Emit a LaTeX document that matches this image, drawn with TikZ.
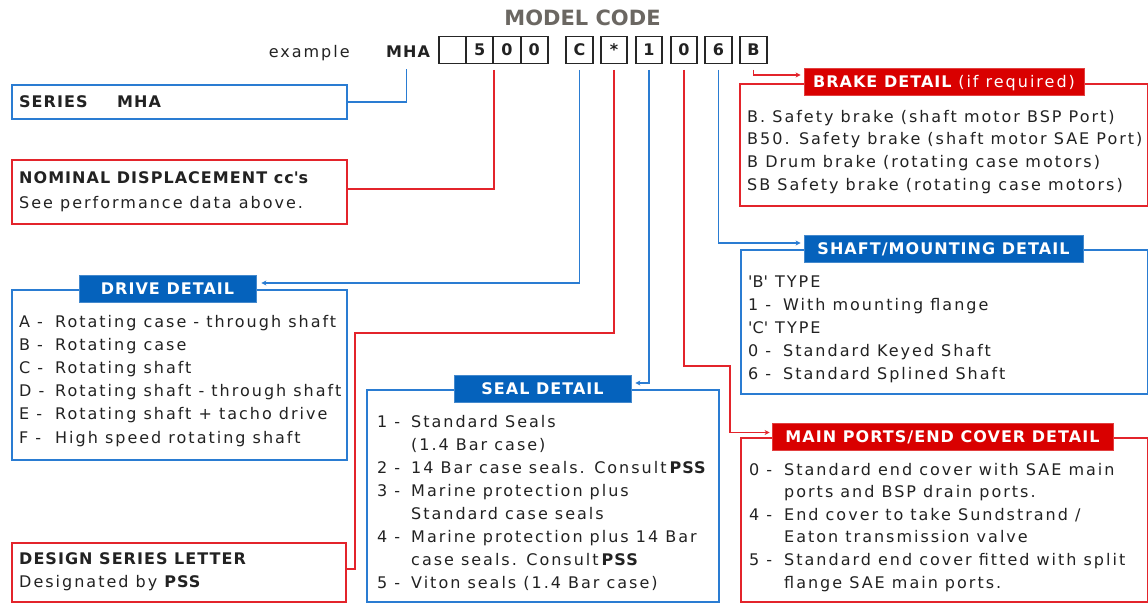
\documentclass[tikz,border=0pt]{standalone}
\usepackage{fontspec}
\setmainfont{DejaVu Sans}[LetterSpace=12.5]
\newfontfamily\bfam{DejaVu Sans}[LetterSpace=6.5]
\newfontfamily\titlefont{DejaVu Sans}
\newcommand\Bd[1]{{\bfam\bfseries #1}}
\usetikzlibrary{arrows.meta}
\definecolor{lblue}{HTML}{2A7CD2}
\definecolor{hblue}{HTML}{0562BC}
\definecolor{lred}{HTML}{E3242B}
\definecolor{hred}{HTML}{D90000}
\definecolor{tgray}{HTML}{6B6762}
\definecolor{ink}{HTML}{222222}
\begin{document}
\begin{tikzpicture}[x=1pt,y=-1pt,
  txt/.style={anchor=base west, inner sep=0pt, text=ink, font=\fontsize{16}{19}\selectfont},
  bbox/.style={draw=lblue, line width=1.8pt, anchor=north west, inner sep=0pt},
  rbox/.style={draw=lred, line width=1.8pt, anchor=north west, inner sep=0pt},
  hd/.style={text=white, font=\fontsize{16}{19}\selectfont\bfam\bfseries, inner sep=0pt, text height=11.7pt, text depth=0pt, minimum height=27pt},
  bhead/.style={hd, fill=hblue, draw=hblue!75!white, line width=0.8pt},
  rhead/.style={hd, fill=hred, draw=hred!75!white, line width=0.8pt},
  cell/.style={draw=black!85, line width=1.8pt, minimum height=27pt, minimum width=26.5pt, inner sep=0pt, font=\fontsize{16}{19}\selectfont\bfam\bfseries, text height=11.7pt, text depth=0pt, text=ink},
  bl/.style={draw=lblue, line width=1.8pt},
  rl/.style={draw=lred, line width=1.8pt},
  tip/.style={-{Stealth[length=5pt,width=5pt]}}
]
\fill[white] (0,0) rectangle (1148,603);
\useasboundingbox (0,0) rectangle (1148,603);

% ---- model code ----
\node[font=\fontsize{21}{24}\selectfont\titlefont\bfseries, text=tgray, inner sep=0pt, text height=15.3pt, text depth=0pt] (title) at (582.5,17.5) {MODEL CODE};
\node[txt] (example) at (268.6,57) {example};
\node[txt] (mha) at (386,57) {\Bd{MHA}};
\node[cell, minimum width=27.35pt] (c0) at (452.3,50) {};
\node[cell, minimum width=27.35pt] (c1) at (479.6,50) {5};
\node[cell, minimum width=27.35pt] (c2) at (507,50) {0};
\node[cell, minimum width=27.35pt] (c3) at (534.3,50) {0};
\node[cell] (cC) at (579.5,50) {C};
\node[cell] (cS) at (614,50) {*};
\node[cell] (cOne) at (649,50) {1};
\node[cell] (cZero) at (684,50) {0};
\node[cell] (cSix) at (718.5,50) {6};
\node[cell] (cB) at (753.5,50) {B};
\coordinate (mhaT) at (406.5,69);

% ---- left boxes ----
\node[bbox, minimum width=335pt, minimum height=34pt] (series) at (11,84) {};
\node[txt] (seriesA) at (19,107) {\Bd{SERIES}};
\node[txt] (seriesB) at (117,107) {\Bd{MHA}};

\node[rbox, minimum width=335pt, minimum height=64pt] (nominal) at (11,159) {};
\node[txt] (nomA) at (19,183) {\Bd{NOMINAL DISPLACEMENT cc\textquotesingle s}};
\node[txt] (nomB) at (19,208) {See performance data above.};

\node[bbox, minimum width=335pt, minimum height=170pt] (drive) at (11,289) {};
\node[bhead, minimum width=177pt] (drvh) at (167.5,288.5) {DRIVE DETAIL};
\node[txt] (dA) at (19,327) {A -};   \node[txt] (dAt) at (55,327) {Rotating case - through shaft};
\node[txt] (dB) at (19,350.2) {B -}; \node[txt] (dBt) at (55,350.2) {Rotating case};
\node[txt] (dC) at (19,373.4) {C -}; \node[txt] (dCt) at (55,373.4) {Rotating shaft};
\node[txt] (dD) at (19,396.6) {D -}; \node[txt] (dDt) at (55,396.6) {Rotating shaft - through shaft};
\node[txt] (dE) at (19,419.8) {E -}; \node[txt] (dEt) at (55,419.8) {Rotating shaft + tacho drive};
\node[txt] (dF) at (19,443) {F -};   \node[txt] (dFt) at (55,443) {High speed rotating shaft};

\node[rbox, minimum width=334pt, minimum height=59pt] (design) at (11,542) {};
\node[txt] (desA) at (19,564) {\Bd{DESIGN SERIES LETTER}};
\node[txt] (desB) at (19,587) {Designated by \Bd{PSS}};

% ---- seal ----
\node[bbox, minimum width=352pt, minimum height=212pt] (seal) at (366,389) {};
\node[bhead, minimum width=177pt] (sealh) at (542.5,388.5) {SEAL DETAIL};
\node[txt] (s1) at (377,427) {1 -}; \node[txt] (s1t) at (411,427) {Standard Seals};
\node[txt] (s1u) at (411,450) {(1.4 Bar case)};
\node[txt] (s2) at (377,473) {2 -}; \node[txt] (s2t) at (411,473) {14 Bar case seals. Consult\hspace{3pt}\Bd{PSS}};
\node[txt] (s3) at (377,496) {3 -}; \node[txt] (s3t) at (411,496) {Marine protection plus};
\node[txt] (s3u) at (411,519) {Standard case seals};
\node[txt] (s4) at (377,542) {4 -}; \node[txt] (s4t) at (411,542) {Marine protection plus 14 Bar};
\node[txt] (s4u) at (411,565) {case seals. Consult\hspace{3pt}\Bd{PSS}};
\node[txt] (s5) at (377,588) {5 -}; \node[txt] (s5t) at (411,588) {Viton seals (1.4 Bar case)};

% ---- brake ----
\node[rbox, minimum width=408pt, minimum height=122pt] (brake) at (739,83) {};
\node[rhead, minimum width=280pt] (brakeh) at (944,82) {BRAKE DETAIL {\mdseries\rmfamily (if required)}};
\node[txt] (b1) at (747,122) {B. Safety brake (shaft motor BSP Port)};
\node[txt] (b2) at (747,144.7) {B50. Safety brake (shaft motor SAE Port)};
\node[txt] (b3) at (747,167.4) {B Drum brake (rotating case motors)};
\node[txt] (b4) at (747,190) {SB Safety brake (rotating case motors)};

% ---- shaft ----
\node[bbox, minimum width=407pt, minimum height=144pt] (shaft) at (740,249) {};
\node[bhead, minimum width=279pt] (shafth) at (943.5,248.5) {SHAFT/MOUNTING DETAIL};
\node[txt] (h1) at (748,287) {\textquotesingle B\textquotesingle\ TYPE};
\node[txt] (h2) at (748,310) {1 -}; \node[txt] (h2t) at (783,310) {With mounting flange};
\node[txt] (h3) at (748,333) {\textquotesingle C\textquotesingle\ TYPE};
\node[txt] (h4) at (748,356) {0 -}; \node[txt] (h4t) at (783,356) {Standard Keyed Shaft};
\node[txt] (h5) at (748,379) {6 -}; \node[txt] (h5t) at (783,379) {Standard Splined Shaft};

% ---- main ports ----
\node[rbox, minimum width=407pt, minimum height=164pt] (mainp) at (740,437) {};
\node[rhead, minimum width=341pt] (mainh) at (942.5,437) {MAIN PORTS/END COVER DETAIL};
\node[txt] (m1) at (749,475) {0 -}; \node[txt] (m1t) at (784,475) {Standard end cover with SAE main};
\node[txt] (m1u) at (784,497.6) {ports and BSP drain ports.};
\node[txt] (m2) at (749,520.2) {4 -}; \node[txt] (m2t) at (784,520.2) {End cover to take Sundstrand /};
\node[txt] (m2u) at (784,542.8) {Eaton transmission valve};
\node[txt] (m3) at (749,565.4) {5 -}; \node[txt] (m3t) at (784,565.4) {Standard end cover fitted with split};
\node[txt] (m3u) at (784,588) {flange SAE main ports.};

% ---- connectors ----
\draw[bl] (mhaT) |- (series.east);
\draw[rl] ([yshift=-5.5pt]c1.south east) |- ([yshift=3pt]nominal.east);
\draw[bl,tip] ([yshift=-5.5pt]cC.south) |- ([xshift=5pt,yshift=5.5pt]drvh.east);
\draw[rl] ([yshift=-5.5pt]cS.south) |- (355,333) |- ([yshift=3.5pt]design.east);
\draw[bl,tip] ([yshift=-5.5pt]cOne.south) |- ([xshift=4pt,yshift=5.5pt]sealh.east);
\draw[rl,tip] ([yshift=-5.5pt]cZero.south) |- (730,366) |- ([xshift=-2pt,yshift=4.5pt]mainh.west);
\draw[bl,tip] ([yshift=-5.5pt]cSix.south) |- ([xshift=-3pt,yshift=5.5pt]shafth.west);
\draw[rl,tip] ([yshift=-5.5pt]cB.south) |- ([xshift=-3pt,yshift=7pt]brakeh.west);
\end{tikzpicture}
\end{document}
